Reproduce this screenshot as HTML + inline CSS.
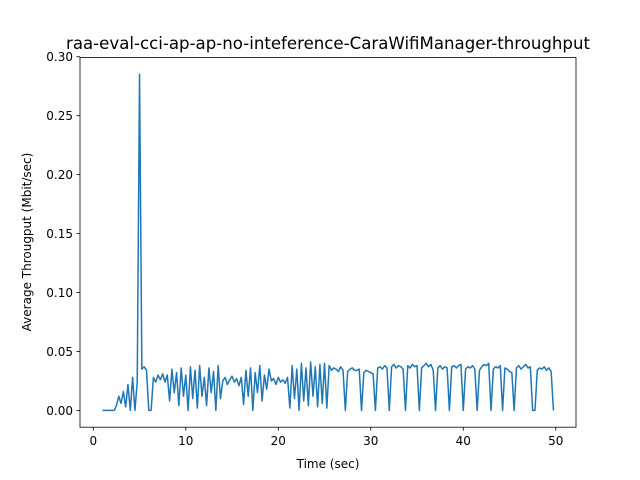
<!DOCTYPE html>
<html><head><meta charset="utf-8"><style>
body{margin:0;background:#fff}svg{display:block}
text{font-family:"DejaVu Sans","Liberation Sans",sans-serif;fill:#000}
</style></head><body>
<svg id="chart" width="640" height="480">
<rect width="640" height="480" fill="#fff"/>
<text x="328" y="49" font-size="16.6" text-anchor="middle" textLength="524" lengthAdjust="spacingAndGlyphs">raa-eval-cci-ap-ap-no-inteference-CaraWifiManager-throughput</text>
<g id="plot"></g>
<rect x="80" y="57.6" width="496" height="369.6" fill="none" stroke="#000" stroke-width="0.8"/>
<g id="xt"></g><g id="yt"></g>
<text x="328" y="468" font-size="12" text-anchor="middle">Time (sec)</text>
<text x="31" y="242" font-size="12" text-anchor="middle" transform="rotate(-90 31 242)">Average Througput (Mbit/sec)</text>
</svg>
<script>
const tStart = 1, tStep = 0.25;
const throughput = [
0,0,0,0,0,0,0.004,0.012,0.006,0.016,0.003,0.022,0.0,0.028,0.0,0.024,0.285,0.035,0.037,0.034,0.0,0.0,
0.028,0.024,0.03,0.026,0.031,0.024,0.03,
0.008,0.035,0.015,0.032,0.004,0.036,0.012,0.03,0.0,0.037,0.01,0.034,0.002,0.038,0.012,0.028,0.004,0.036,0.015,0.033,0.0,0.038,0.01,
0.025,0.028,0.022,0.026,0.029,0.024,0.027,0.021,0.028,
0.005,0.034,0.012,0.036,0.0,0.032,0.015,0.038,0.008,0.03,0.018,0.035,
0.025,0.027,0.022,0.028,0.024,0.026,0.023,0.028,
0.002,0.038,0.01,0.035,0.0,0.04,0.008,0.036,0.004,0.041,0.012,0.037,0.003,0.039,0.006,0.04,0.002,0.038,
0.034,0.036,0.035,0.033,0.037,0.034,0.0,0.033,0.035,0.036,0.034,0.034,0.035,0.0,0.032,0.034,0.033,0.032,0.031,0.0,
0.036,0.037,0.035,0.038,0.036,0.0,0.037,0.039,0.036,0.038,0.037,0.035,0.0,0.038,0.036,0.039,0.037,0.038,0.0,
0.036,0.038,0.04,0.037,0.039,0.034,0.0,0.036,0.038,0.035,0.037,0.036,0.0,0.037,0.038,0.036,0.038,0.039,0.0,
0.035,0.037,0.036,0.038,0.035,0.0,0.034,0.037,0.039,0.038,0.040,0.0,0.035,0.037,0.036,0.038,0.0,0.036,0.035,0.033,0.032,0.0,
0.036,0.038,0.035,0.037,0.039,0.036,0.037,0.0,0.0,0.034,0.036,0.035,0.037,0.034,0.036,0.033,0.0
];
const xTicks = [0,10,20,30,40,50];
const yTicks = ["0.00","0.05","0.10","0.15","0.20","0.25","0.30"];
const X0=80,X1=576,Y0=427.2,Y1=57.6;
const tEnd = tStart + (throughput.length-1)*tStep;
const xmin = tStart-(tEnd-tStart)*0.05, xmax = tEnd+(tEnd-tStart)*0.05;
const vmax = Math.max(...throughput), vmin = Math.min(...throughput);
const ymin = vmin-(vmax-vmin)*0.05, ymax = vmax+(vmax-vmin)*0.05;
const sx = t => X0+(t-xmin)/(xmax-xmin)*(X1-X0);
const sy = v => Y0-(v-ymin)/(ymax-ymin)*(Y0-Y1);
const NS="http://www.w3.org/2000/svg";
let d = throughput.map((v,i)=>(i?"L":"M")+sx(tStart+i*tStep).toFixed(2)+","+sy(v).toFixed(2)).join("");
const p = document.createElementNS(NS,"path");
p.setAttribute("d",d);p.setAttribute("fill","none");p.setAttribute("stroke","#1f77b4");p.setAttribute("stroke-width","1.5");p.setAttribute("stroke-linejoin","round");


document.getElementById("plot").appendChild(p);
const xt=document.getElementById("xt");
xTicks.forEach(v=>{
  const x=sx(v);
  const l=document.createElementNS(NS,"line");
  l.setAttribute("x1",x);l.setAttribute("x2",x);l.setAttribute("y1",Y0);l.setAttribute("y2",Y0+3.5);l.setAttribute("stroke","#000");l.setAttribute("stroke-width","0.8");
  
  
  xt.appendChild(l);
  const t=document.createElementNS(NS,"text");
  t.setAttribute("x",x);t.setAttribute("y",Y0+18);t.setAttribute("font-size","12");t.setAttribute("text-anchor","middle");t.textContent=v;
  
  
  xt.appendChild(t);
});
const yt=document.getElementById("yt");
yTicks.forEach(s=>{
  const y=sy(parseFloat(s));
  const l=document.createElementNS(NS,"line");
  l.setAttribute("x1",X0-3.5);l.setAttribute("x2",X0);l.setAttribute("y1",y);l.setAttribute("y2",y);l.setAttribute("stroke","#000");l.setAttribute("stroke-width","0.8");
  
  
  yt.appendChild(l);
  const t=document.createElementNS(NS,"text");
  t.setAttribute("x",X0-7);t.setAttribute("y",y+4.5);t.setAttribute("font-size","12");t.setAttribute("text-anchor","end");t.textContent=s;
  
  
  yt.appendChild(t);
});
</script>
</body></html>
